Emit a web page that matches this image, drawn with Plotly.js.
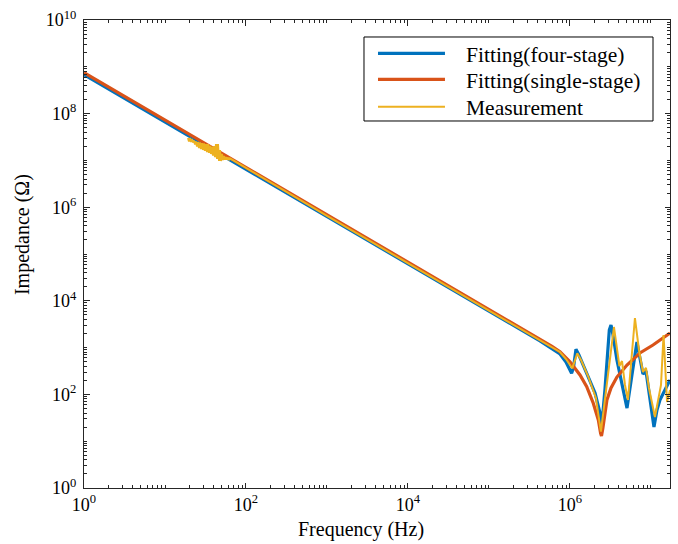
<!DOCTYPE html>
<html>
<head>
<meta charset="utf-8">
<script src="https://cdn.plot.ly/plotly-3.0.1.min.js"></script>
<style>
  html, body { margin: 0; padding: 0; background: #fff; }
  #chart { width: 678px; height: 544px; }
</style>
</head>
<body>
<div id="chart"></div>
<script>
// ---- Data (frequency in Hz, impedance in ohm) ----
const fourStageFreq = [1, 1e3, 1e5, 2.4e5, 4.26e5, 7.53e5, 8.93e5, 1.047e6, 1.104e6, 1.186e6, 1.29e6, 1.61e6, 2.04e6, 2.35e6, 2.46e6, 2.7e6, 3.06e6, 3.21e6, 3.4e6, 3.8e6, 4.39e6, 5.06e6, 5.82e6, 6.71e6, 7.31e6, 7.96e6, 8.68e6, 9.44e6, 1.014e7, 1.089e7, 1.186e7, 1.29e7, 1.53e7, 1.72e7];
const fourStageZ    = [6.8e8, 6.33e5, 6.02e3, 2.4e3, 1.39e3, 730, 492, 282, 367, 920, 695, 282, 107, 40, 20, 124, 2377, 3040, 1859, 543, 159, 51, 260, 1318, 600, 273, 316, 112, 46.4, 20.1, 46.4, 76, 137, 203];

const singleStageFreq = [1, 1e3, 1e5, 2.4e5, 4.26e5, 6e5, 7.53e5, 8.8e5, 1.0e6, 1.15e6, 1.33e6, 1.61e6, 1.94e6, 2.1e6, 2.24e6, 2.39e6, 2.45e6, 2.55e6, 2.7e6, 2.86e6, 3.21e6, 3.8e6, 5.06e6, 7.31e6, 1.06e7, 1.72e7];
const singleStageZ    = [7.5e8, 6.97e5, 6.64e3, 2.74e3, 1.55e3, 1.06e3, 817, 630, 500, 362, 260, 146, 64.6, 41, 28.4, 14.7, 12.9, 19.1, 36.3, 76, 137, 235, 425, 767, 1137, 2051];

const measFreq = [19.23, 19.78, 20.35, 20.94, 21.54, 22.17, 22.80, 23.46, 24.14, 24.84, 25.55, 26.29, 27.05, 27.83, 28.63, 29.46, 30.31, 31.18, 32.08, 33.01, 33.96, 34.94, 35.94, 36.98, 38.05, 39.15, 40.28, 41.44, 42.63, 43.86, 45.13, 46.42, 47.77, 49.14, 50.56, 52.02, 53.52, 55.06, 56.65, 58.28, 59.95, 61.68, 63.46,
  1e3, 1e5, 2.4e5, 4.26e5, 7.53e5, 8.93e5, 1.067e6, 1.231e6, 1.37e6, 1.67e6, 2.09e6, 2.41e6, 2.7e6, 3.06e6, 3.49e6, 4.08e6, 4.39e6, 4.78e6, 5.2e6, 5.66e6, 6.34e6, 7.11e6, 7.96e6, 8.68e6, 9.44e6, 1.12e7, 1.256e7, 1.33e7, 1.43e7, 1.58e7, 1.72e7];
const measZ = [3.01e7, 2.53e7, 3.01e7, 2.47e7, 2.87e7, 2.41e7, 2.66e7, 2.19e7, 2.53e7, 1.98e7, 2.47e7, 1.84e7, 2.41e7, 1.75e7, 2.35e7, 1.67e7, 2.30e7, 1.59e7, 2.24e7, 1.51e7, 2.24e7, 1.44e7, 2.08e7, 1.37e7, 1.98e7, 1.27e7, 2.03e7, 1.18e7, 2.24e7, 1.07e7, 2.24e7, 9.71e6, 1.67e7, 9.71e6, 1.37e7, 1.02e7, 1.24e7, 1.045e7, 1.18e7, 1.045e7, 1.15e7, 1.02e7, 1.10e7,
  6.51e5, 6.20e3, 2.56e3, 1.434e3, 806, 571, 361, 755, 543, 247, 84, 16, 76, 469, 2754, 404, 517, 159, 76, 425, 4290, 889, 301, 367, 137, 32.9, 97, 159, 1859, 68.8, 124];

const seriesNames = ['Fitting(four-stage)', 'Fitting(single-stage)', 'Measurement'];
const seriesColors = ['#0072BD', '#D95319', '#EDB120'];
const seriesWidths = [3.2, 3.2, 2];

// labelled (major) ticks every two decades
const xTickVals = [1, 1e2, 1e4, 1e6];
const xTickText = ['10<sup>0</sup>', '10<sup>2</sup>', '10<sup>4</sup>', '10<sup>6</sup>'];
const yTickVals = [1, 1e2, 1e4, 1e6, 1e8, 1e10];
const yTickText = ['10<sup>0</sup>', '10<sup>2</sup>', '10<sup>4</sup>', '10<sup>6</sup>', '10<sup>8</sup>', '10<sup>10</sup>'];

// minor tick positions: every 1..9 x 10^n that is not a labelled tick
function minorTicks(maxExp, majors) {
  const out = [];
  for (let e = 0; e < maxExp; e++) for (let m = 1; m <= 9; m++) {
    const v = m * Math.pow(10, e);
    if (majors.indexOf(v) < 0) out.push(v);
  }
  return out;
}

const FONT = 'Liberation Serif';
const AX = '#262626';

const xs = [fourStageFreq, singleStageFreq, measFreq];
const ys = [fourStageZ, singleStageZ, measZ];
const traces = seriesNames.map((n, i) => ({
  x: xs[i], y: ys[i], name: n, type: 'scatter', mode: 'lines', showlegend: false,
  line: { color: seriesColors[i], width: seriesWidths[i] }
}));

function axisBase() {
  return {
    type: 'log', showgrid: false, zeroline: false,
    showline: true, linecolor: AX, linewidth: 1, mirror: 'allticks',
    ticks: 'inside', ticklen: 5.5, tickwidth: 1, tickcolor: AX,
    tickmode: 'array',
    tickfont: { family: FONT, size: 18, color: '#000' },
  };
}

const xaxis = Object.assign(axisBase(), {
  range: [0, 7.235], tickvals: xTickVals, ticktext: xTickText,
  minor: { tickmode: 'array', tickvals: minorTicks(8, xTickVals), ticks: 'inside', ticklen: 3, tickwidth: 1, tickcolor: AX, showgrid: false }
});
const yaxis = Object.assign(axisBase(), {
  range: [0, 10], tickvals: yTickVals, ticktext: yTickText, ticklabelstandoff: 3,
  minor: { tickmode: 'array', tickvals: minorTicks(10, yTickVals), ticks: 'inside', ticklen: 3, tickwidth: 1, tickcolor: AX, showgrid: false }
});

// legend drawn as a boxed key (paper coordinates)
const legBox = { x0: 0.4778, x1: 0.9710, y0: 0.7842, y1: 0.9637 };
const legRows = [0.9288, 0.8733, 0.8147];
const legLineX = [0.5017, 0.6160];
const legTextX = 0.6485;

const shapes = [
  { type: 'rect', xref: 'paper', yref: 'paper', x0: legBox.x0, x1: legBox.x1, y0: legBox.y0, y1: legBox.y1,
    line: { color: '#000', width: 1 }, fillcolor: '#fff', layer: 'above' }
].concat(seriesNames.map((n, i) => ({
  type: 'line', xref: 'paper', yref: 'paper', x0: legLineX[0], x1: legLineX[1], y0: legRows[i], y1: legRows[i],
  line: { color: seriesColors[i], width: seriesWidths[i] }, layer: 'above'
})));

const annotations = [
  { text: 'Frequency (Hz)', xref: 'paper', yref: 'paper', x: 0.4735, y: -0.0897,
    xanchor: 'center', yanchor: 'middle', showarrow: false,
    font: { family: FONT, size: 20, color: '#000' } },
  { text: 'Impedance (Ω)', xref: 'paper', yref: 'paper', x: -0.104, y: 0.5406,
    xanchor: 'center', yanchor: 'middle', showarrow: false, textangle: -90,
    font: { family: FONT, size: 20, color: '#000' } }
].concat(seriesNames.map((n, i) => ({
  text: n, xref: 'paper', yref: 'paper', x: legTextX, y: legRows[i] - 0.003,
  xanchor: 'left', yanchor: 'middle', showarrow: false,
  font: { family: FONT, size: 21.5, color: '#000' }
})));

const layout = {
  width: 678, height: 544,
  margin: { l: 84, r: 8, t: 20, b: 56, pad: 0 },
  paper_bgcolor: '#fff', plot_bgcolor: '#fff',
  font: { family: FONT, color: '#000' },
  xaxis: xaxis, yaxis: yaxis,
  showlegend: false,
  shapes: shapes,
  annotations: annotations
};

Plotly.newPlot('chart', traces, layout, { displayModeBar: false, staticPlot: true });
</script>
</body>
</html>
